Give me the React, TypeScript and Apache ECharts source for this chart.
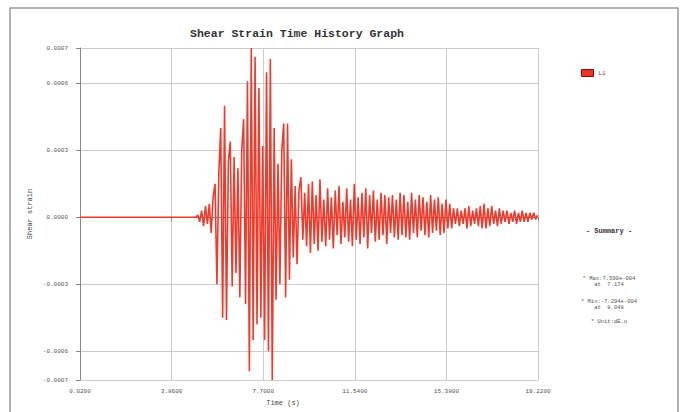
import React, { useEffect, useRef } from "react";
import * as echarts from "echarts";

const TITLE = "Shear Strain Time History Graph";
const SERIES_NAME = "L1";
const X_NAME = "Time (s)";
const Y_NAME = "Shear strain";

const X_MIN = 0.02;
const X_MAX = 19.22;
const xTickValues = [0.02, 3.86, 7.7, 11.54, 15.38, 19.22];
const xTickLabels = ["0.0200", "3.8600", "7.7000", "11.5400", "15.3800", "19.2200"];

const Y_MIN = -0.0007294;
const Y_MAX = 0.000759;
const yTickValues = [-0.0007294, -0.0006, -0.0003, 0, 0.0003, 0.0006, 0.000759];
const yTickLabels = ["-0.0007", "-0.0006", "-0.0003", "0.0000", "0.0003", "0.0006", "0.0007"];

// quiet start of record
const quietTimes = [0.02, 4.8];
const quietValues = [0, 0];

// sampled record after onset (values in 1e-4)
const T0 = 4.88;
const DT = 0.08;
const strainE4 = [
  0.0, 0.1, -0.2, 0.3, -0.4, 0.5, -0.3, 0.6, -0.7, 0.9,
  1.5, -3.0, 2.0, 4.0, -4.5, 5.0, -4.6, 2.5, 3.4, -3.1,
  2.7, -2.5, 2.2, -3.6, 3.0, 4.4, -3.9, 6.1, -6.9, 7.59,
  -5.5, 7.2, -4.8, 5.8, -4.5, 3.2, -5.5, 6.5, -6.0, 7.1,
  -7.294, 4.0, -3.7, 2.4, -3.0, 3.0, 4.2, -3.6, 4.2, -2.8,
  2.6, -1.8, 1.4, -2.1, 1.2, 1.8, -1.0, 1.1, -1.3, 1.5,
  -1.6, 1.6, -1.2, 1.0, -1.5, 1.7, -1.1, 0.8, -1.3, 1.3,
  -1.0, 0.9, -1.4, 1.2, -0.8, 1.4, -1.2, 0.7, -0.9, 1.3,
  -1.1, 0.8, -1.3, 1.5, -1.0, 0.9, -1.2, 1.1, -0.9, 1.3,
  -1.4, 1.0, -0.7, 1.2, -1.1, 0.8, -1.0, 1.1, -0.8, 1.0,
  -1.2, 0.9, -0.7, 1.0, -0.9, 0.8, -1.0, 1.1, -0.8, 1.0,
  -0.9, 0.7, -1.0, 1.1, -0.7, 0.8, -0.9, 1.0, -0.6, 0.9,
  -0.8, 0.7, -0.9, 1.0, -0.7, 0.8, -0.6, 0.9, -0.8, 0.6,
  -0.7, 0.8, -0.5, 0.6, -0.5, 0.4, -0.3, 0.4, -0.4, 0.3,
  -0.3, 0.4, -0.5, 0.5, -0.4, 0.3, -0.3, 0.4, -0.4, 0.5,
  -0.5, 0.6, -0.5, 0.4, -0.4, 0.5, -0.3, 0.3, -0.4, 0.4,
  -0.3, 0.3, -0.2, 0.3, -0.3, 0.2, -0.2, 0.3, -0.3, 0.2,
  -0.2, 0.3, -0.2, 0.2, -0.2, 0.2, -0.1, 0.2, -0.1, 0.1,
];

const summaryLines = [
  "* Max:7.590e-004",
  "at  7.174",
  "* Min:-7.294e-004",
  "at  8.048",
  "* Unit:dE.u",
];

const MONO = "'Liberation Mono', 'DejaVu Sans Mono', monospace";

export default function App() {
  const ref = useRef<HTMLDivElement>(null);

  useEffect(() => {
    document.body.style.margin = "0";
    if (!ref.current) return;
    const chart = echarts.init(ref.current, null, { renderer: "svg" });

    const data: [number, number][] = [];
    quietTimes.forEach((t, i) => data.push([t, quietValues[i]]));
    strainE4.forEach((v, i) => data.push([+(T0 + i * DT).toFixed(3), v * 1e-4]));

    const labelStyle = { fontFamily: MONO, fontSize: 6, color: "#555" };

    chart.setOption({
      animation: false,
      backgroundColor: "#fff",
      title: {
        text: TITLE,
        left: 292,
        top: 22,
        textAlign: "center",
        textStyle: { fontFamily: MONO, fontSize: 11.5, fontWeight: "bold", color: "#333" },
      },
      legend: {
        data: [SERIES_NAME],
        left: 576,
        top: 64,
        icon: "rect",
        itemWidth: 12,
        itemHeight: 7,
        itemGap: 4,
        itemStyle: { color: "#ee3124", borderColor: "#7a1010", borderWidth: 1 },
        textStyle: { fontFamily: MONO, fontSize: 6, color: "#555" },
      },
      grid: { left: 80, right: 150, top: 48, bottom: 32 },
      xAxis: {
        type: "value",
        min: X_MIN,
        max: X_MAX,
        axisLine: { lineStyle: { color: "#888", width: 1 } },
        axisTick: { customValues: xTickValues, length: 4, lineStyle: { color: "#888" } },
        axisLabel: {
          customValues: xTickValues,
          margin: 8,
          ...labelStyle,
          formatter: (v: number) => {
            const idx = xTickValues.findIndex((x) => Math.abs(x - v) < 1e-6);
            return idx >= 0 ? xTickLabels[idx] : "";
          },
        },
        splitLine: { show: true, lineStyle: { color: "#ccc", width: 1 } },
      },
      yAxis: {
        type: "value",
        min: Y_MIN,
        max: Y_MAX,
        axisLine: { show: true, lineStyle: { color: "#888", width: 1 } },
        axisTick: { show: true, customValues: yTickValues, length: 4, lineStyle: { color: "#888" } },
        axisLabel: {
          customValues: yTickValues,
          margin: 12,
          ...labelStyle,
          formatter: (v: number) => {
            const idx = yTickValues.findIndex((y) => Math.abs(y - v) < 1e-9);
            return idx >= 0 ? yTickLabels[idx] : "";
          },
        },
        splitLine: { show: true, lineStyle: { color: "#ccc", width: 1 } },
      },
      series: [
        {
          name: SERIES_NAME,
          type: "line",
          data,
          showSymbol: false,
          symbol: "none",
          lineStyle: { color: "#ef3a2c", width: 1.6 },
          itemStyle: { color: "#ee3124" },
        },
      ],
      graphic: [
        {
          type: "rect",
          shape: { x: 10, y: 8, width: 668, height: 410 },
          style: { fill: "none", stroke: "#999", lineWidth: 1.5 },
          silent: true,
        },
        {
          type: "text",
          x: 30,
          y: 214,
          rotation: Math.PI / 2,
          style: {
            text: Y_NAME,
            fontFamily: MONO,
            fontSize: 7,
            fill: "#444",
            align: "center",
            verticalAlign: "middle",
          },
        },
        {
          type: "text",
          x: 283,
          y: 403,
          style: {
            text: X_NAME,
            fontFamily: MONO,
            fontSize: 7,
            fill: "#444",
            align: "center",
            verticalAlign: "middle",
          },
        },
        {
          type: "text",
          x: 609,
          y: 231,
          style: {
            text: "- Summary -",
            fontFamily: MONO,
            fontSize: 7,
            fontWeight: "bold",
            fill: "#333",
            align: "center",
            verticalAlign: "middle",
          },
        },
        ...summaryLines.map((s, i) => ({
          type: "text",
          x: 609,
          y: [278, 284, 301, 307, 321][i],
          style: {
            text: s,
            fontFamily: MONO,
            fontSize: 5.5,
            fill: "#555",
            align: "center",
            verticalAlign: "middle",
          },
        })),
      ],
    });

    return () => chart.dispose();
  }, []);

  return <div ref={ref} style={{ width: 688, height: 412 }} />;
}
